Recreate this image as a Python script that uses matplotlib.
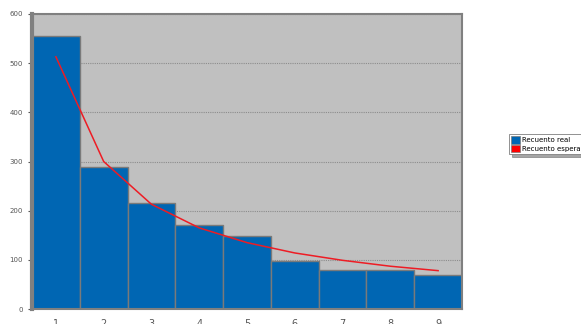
import matplotlib
matplotlib.use('Agg')
import matplotlib.pyplot as plt
from matplotlib.patches import Patch
import numpy as np

# first digit counts vs Benford expectation
digits = ['1', '2', '3', '4', '5', '6', '7', '8', '9']
real = [555, 289, 215, 171, 148, 98, 79, 79, 69]
expected = [513, 300, 213, 165, 135, 114, 99, 87, 78]

fig = plt.figure(figsize=(5.81, 3.24), dpi=100)
ax = fig.add_axes([32 / 581, 1 - 309 / 324, 430 / 581, 295 / 324])
ax.set_facecolor('#c0c0c0')

x = np.arange(1, len(digits) + 1)
ax.bar(x, real, width=1.0, color='#0066b3', edgecolor='#7a7a7a', linewidth=1.0, zorder=2)
ax.plot(x, expected, color='#ee1c24', lw=1.1, zorder=3)

ax.set_xlim(0.5, 9.5)
ax.set_ylim(0, 600)
ax.set_yticks(np.arange(0, 601, 100))
ax.yaxis.grid(True, ls=(0, (1, 1)), color='#8c8c8c', lw=0.8, zorder=1)
ax.set_axisbelow(True)
ax.tick_params(axis='y', labelsize=5, colors='#555555', length=3, width=0.8)
ax.set_xticks([])
for s in ax.spines.values():
    s.set_color('#808080')
    s.set_linewidth(1.5)
ax.spines['left'].set_linewidth(3)

# digit labels sit below the plot, mostly cut by the figure edge
for xi, d in zip(x, digits):
    ax.text(xi, -30, d, ha='center', va='center', fontsize=7, color='#555555',
            clip_on=False)

handles = [Patch(facecolor='#0066b3', edgecolor='#7a7a7a', lw=0.5, label='Recuento real'),
           Patch(facecolor='#ff0000', edgecolor='#7a7a7a', lw=0.5, label='Recuento esperado')]
leg = fig.legend(handles=handles, loc='upper left', bbox_to_anchor=(509 / 581, 1 - 134 / 324),
                 fontsize=5, frameon=True, fancybox=False, shadow=True,
                 handlelength=1.3, handleheight=1.3, borderpad=0.3, labelspacing=0.15,
                 handletextpad=0.3, borderaxespad=0)
leg.get_frame().set_edgecolor('#808080')
leg.get_frame().set_linewidth(0.6)

fig.savefig('out.png', dpi=100)
